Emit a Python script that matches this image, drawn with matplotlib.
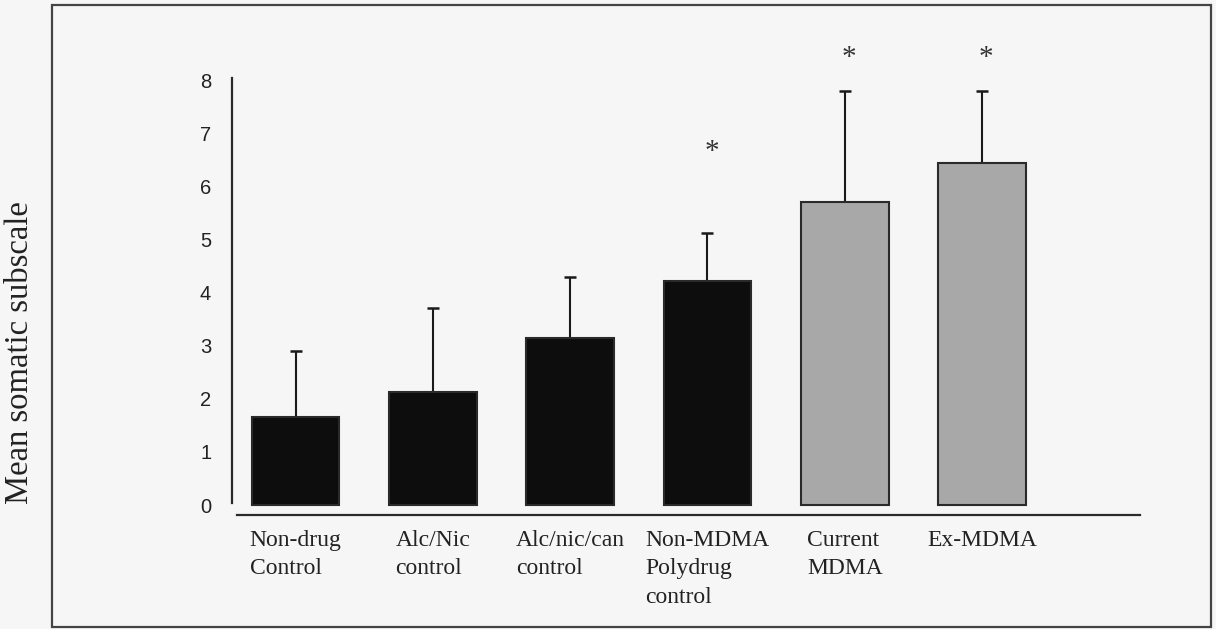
import numpy as np
import matplotlib
matplotlib.use('Agg')
import matplotlib.pyplot as plt
from matplotlib.patches import Rectangle

# Somatic subscale means (+SD) per group
groups = ['Non-drug\nControl', 'Alc/Nic\ncontrol', 'Alc/nic/can\ncontrol',
          'Non-MDMA\nPolydrug\ncontrol', 'Current\nMDMA', 'Ex-MDMA']
means = [1.66, 2.13, 3.14, 4.22, 5.71, 6.44]
sd_upper = [1.24, 1.58, 1.15, 0.90, 2.09, 1.36]
bar_colors = ['#0d0d0d', '#0d0d0d', '#0d0d0d', '#0d0d0d', '#a8a8a8', '#a8a8a8']

# significance markers: group index and height of the star
star_idx = [3, 4, 5]
star_y = [6.65, 8.42, 8.42]

yticks = [0, 1, 2, 3, 4, 5, 6, 7, 8]

serif = 'Liberation Serif'
sans = 'Liberation Sans'

fig = plt.figure(figsize=(12.16, 6.29), dpi=100, facecolor='#f6f6f6')
ax = fig.add_axes([232 / 1216, 114 / 629, 908 / 1216, 435 / 629])
ax.set_facecolor('none')

x = np.arange(len(groups))
ax.bar(x, means, width=0.64, color=bar_colors, edgecolor='#2a2a2a', linewidth=1.5, zorder=2)
ax.errorbar(x, means, yerr=[np.zeros(len(means)), sd_upper], fmt='none',
            ecolor='#1a1a1a', elinewidth=1.5, capsize=4.5, capthick=1.8, zorder=1)

for i, yv in zip(star_idx, star_y):
    ax.text(x[i] + 0.03, yv, '*', ha='center', va='center', fontsize=21,
            family=serif, color='#333333', clip_on=False)

ax.set_xlim(-0.4625, 6.15)
ax.set_ylim(-0.188, 8)

for s in ['top', 'right']:
    ax.spines[s].set_visible(False)
ax.spines['left'].set_bounds(0.04, 8.04)
ax.spines['bottom'].set_bounds(-0.426, 6.15)
for s in ['left', 'bottom']:
    ax.spines[s].set_linewidth(1.6)
    ax.spines[s].set_color('#2a2a2a')

ax.set_yticks(yticks)
ax.set_yticklabels([str(t) for t in yticks], family=sans, fontsize=14.5, color='#222222')
ax.tick_params(axis='y', length=0, pad=15)

ax.set_xticks(x)
ax.set_xticklabels(groups, family=serif, fontsize=17, color='#222222',
                   linespacing=1.45)
plt.setp(ax.get_xticklabels(), multialignment='left', va='top')
ax.tick_params(axis='x', length=0, pad=11)

fig.text(20 / 1216, (629 - 353) / 629, 'Mean somatic subscale', rotation=90,
         ha='center', va='center', family=serif, fontsize=23.5, color='#222222')

# frame around the whole figure
fig.patches.append(Rectangle((52 / 1216, 2 / 629), 1159 / 1216, 622 / 629,
                             transform=fig.transFigure, fill=False,
                             edgecolor='#444444', linewidth=1.6))

fig.savefig('out.png', dpi=100, facecolor=fig.get_facecolor())
